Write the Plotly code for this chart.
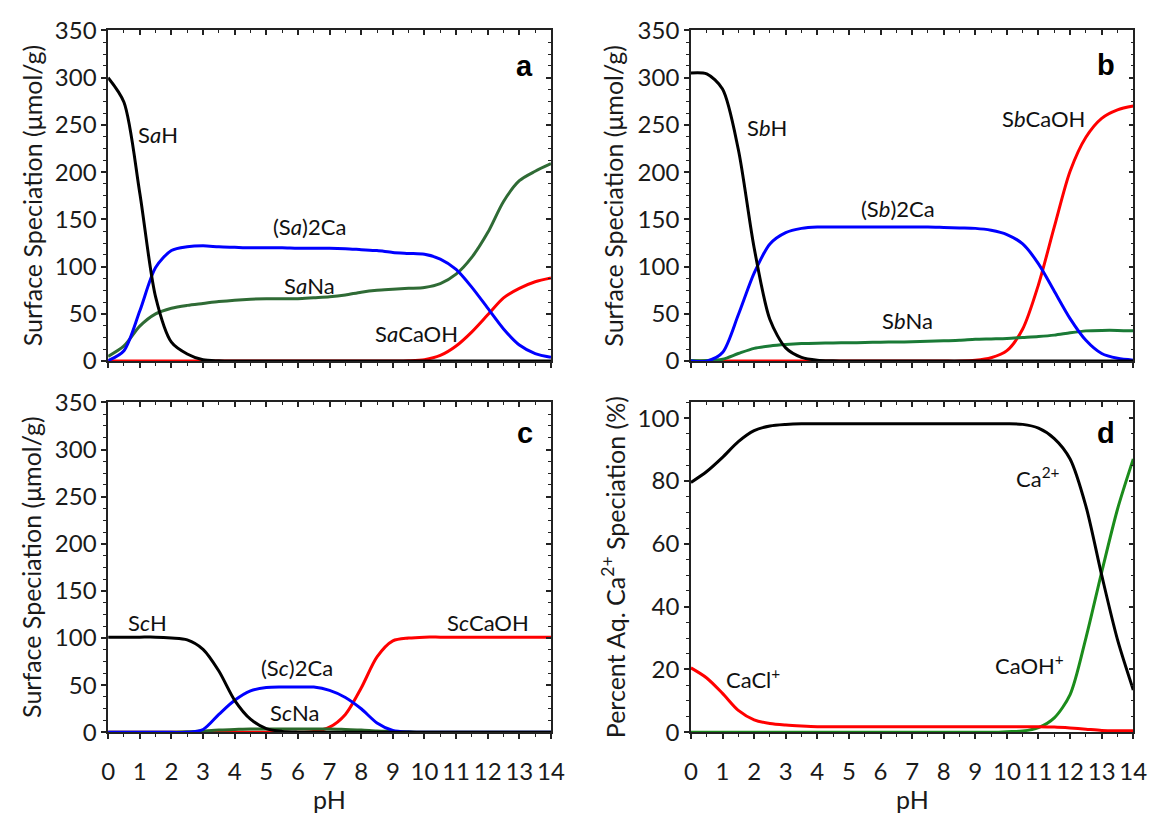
import plotly.graph_objects as go

# pH grid shared by every series
ph = [0.0, 0.5, 1.0, 1.5, 2.0, 2.5, 3.0, 3.5, 4.0, 4.5, 5.0, 5.5, 6.0, 6.5, 7.0,
      7.5, 8.0, 8.5, 9.0, 9.5, 10.0, 10.5, 11.0, 11.5, 12.0, 12.5, 13.0, 13.5, 14.0]

# Panel a: site Sa (umol/g)
sa_h = [300, 274, 178, 68, 20, 7.5, 1.4, 0.3] + [0] * 21
sa2_ca = [0.5, 11, 53, 99, 117, 121, 122, 121, 120.5, 120, 120, 120, 119.5, 119.5, 119.5,
          119, 118, 117, 115, 114, 113, 108, 97, 78, 56, 34, 17, 8, 4]
sa_na = [5, 16, 37, 50, 56, 59, 61, 63, 64.5, 65.5, 66, 66, 66, 67, 68,
         70, 73, 75, 76, 77, 78, 82, 92, 110, 136, 169, 191, 201, 209]
sa_caoh = [0] * 19 + [0.3, 1.5, 6, 16, 31, 49, 67, 77, 84, 88]

# Panel b: site Sb (umol/g)
sb_h = [305, 304, 288, 224, 120, 44, 14, 4, 1, 0.3] + [0] * 19
sb2_ca = [0, 0, 9, 49, 93, 124, 136, 140.5, 142, 142, 142, 142, 142, 142, 142,
          142, 141.5, 141, 140.5, 138.5, 134, 124, 103, 74, 45, 22, 8, 3, 1]
sb_na = [0.5, 0.5, 2, 8, 13.5, 16, 17.5, 18.5, 19, 19.2, 19.4, 19.7, 20, 20.2, 20.5,
         21, 21.5, 22, 23, 23.5, 24, 25, 26, 27.5, 30, 32, 32.5, 32.5, 32]
sb_caoh = [0] * 18 + [0.8, 3.5, 11, 34, 81, 142, 201, 237, 257, 266, 270]

# Panel c: site Sc (umol/g)
sc_h = [101, 101, 101, 101, 100, 98, 88, 65, 34, 14, 4, 1, 0.2] + [0] * 16
sc2_ca = [0] * 6 + [3, 19, 34, 44, 47.5, 48, 48, 48, 44.5, 37, 25, 10, 2, 0.3] + [0] * 9
sc_na = [0] * 5 + [0.5, 1.5, 2.5, 3, 3.5, 3.5, 3.5, 3.5, 3.5, 3.5, 3, 2.5, 1.5, 1, 0.5] + [0] * 9
sc_caoh = [0] * 13 + [1, 5.5, 19, 47, 80, 97, 100] + [101] * 9

# Panel d: aqueous Ca speciation (%)
ca2 = [79.5, 83, 87.5, 92.5, 96, 97.5, 98, 98.2] + [98.2] * 13 + \
      [98, 96.8, 93.5, 87, 72, 50, 29.5, 13.5]
caoh = [0] * 20 + [0.2, 0.4, 1.5, 4.6, 12, 30, 51, 71, 87]
cacl = [20.5, 17.3, 12.4, 7, 4, 2.8, 2.3, 2.0] + [1.8] * 15 + [1.7, 1.4, 1.0, 0.6, 0.5, 0.5]

BLACK, BLUE, RED = "#000000", "#0000ff", "#ff0000"
AX = "#222222"
FONT = "Lato"

W, H = 1163, 823
dom_x_left = [103 / W, 554 / W]
dom_x_right = [696.5 / W, 1147 / W]
dom_y_top = [(H - 357.7) / H, (H - 15) / H]
dom_y_bot = [(H - 742.5) / H, (H - 400.5) / H]

panels = [
    dict(n=1, dx=dom_x_left, dy=dom_y_top, yr=[0, 350], ydt=50, ymin=12.5, xlabels=False,
         letter="a", letter_pos=(13.17, 312),
         series=[(sa_caoh, RED), (sa_na, "#2f6b35"), (sa2_ca, BLUE), (sa_h, BLACK)],
         labels=[("S<i>a</i>H", 1.58, 240), ("(S<i>a</i>)2Ca", 6.38, 143),
                 ("S<i>a</i>Na", 6.36, 80), ("S<i>a</i>CaOH", 9.75, 29)]),
    dict(n=2, dx=dom_x_right, dy=dom_y_top, yr=[0, 350], ydt=50, ymin=12.5, xlabels=False,
         letter="b", letter_pos=(13.13, 313),
         series=[(sb_caoh, RED), (sb_na, "#1a7a36"), (sb2_ca, BLUE), (sb_h, BLACK)],
         labels=[("S<i>b</i>H", 2.41, 247), ("(S<i>b</i>)2Ca", 6.55, 162),
                 ("S<i>b</i>Na", 6.84, 43), ("S<i>b</i>CaOH", 11.15, 257)]),
    dict(n=3, dx=dom_x_left, dy=dom_y_bot, yr=[0, 350], ydt=50, ymin=12.5, xlabels=True,
         letter="c", letter_pos=(13.17, 318),
         series=[(sc_caoh, RED), (sc_na, "#2b6a2b"), (sc2_ca, BLUE), (sc_h, BLACK)],
         labels=[("S<i>c</i>H", 1.23, 117), ("(S<i>c</i>)2Ca", 5.96, 69),
                 ("S<i>c</i>Na", 5.88, 21.5), ("S<i>c</i>CaOH", 12.02, 116)]),
    dict(n=4, dx=dom_x_right, dy=dom_y_bot, yr=[0, 105], ydt=20, ymin=5, xlabels=True,
         letter="d", letter_pos=(13.13, 95.4),
         series=[(caoh, "#1b8c1b"), (cacl, RED), (ca2, BLACK)],
         labels=[("Ca<sup>2+</sup>", 11.0, 81), ("CaOH<sup>+</sup>", 10.71, 21.6),
                 ("CaCl<sup>+</sup>", 1.96, 17)]),
]

fig = go.Figure()
layout = {}
annotations = []

for p in panels:
    n = p["n"]
    xs = "" if n == 1 else str(n)
    xname, yname = "x" + xs, "y" + xs
    for vals, col in p["series"]:
        fig.add_trace(go.Scatter(
            x=ph, y=vals, mode="lines", xaxis=xname, yaxis=yname,
            line=dict(color=col, width=3, shape="spline", smoothing=0.8),
            showlegend=False, hoverinfo="skip"))

    tickfont = dict(family=FONT, size=24, color="#1a1a1a")
    layout["xaxis" + xs] = dict(
        domain=p["dx"], anchor=yname, range=[0, 14], tick0=0, dtick=1,
        ticks="outside", ticklen=5, tickwidth=1.5, tickcolor=AX,
        showline=True, linecolor=AX, linewidth=1.5, showgrid=False, zeroline=False,
        minor=dict(dtick=0.5, ticks="outside", ticklen=3, tickcolor=AX, tickwidth=1),
        showticklabels=p["xlabels"], tickfont=tickfont, ticklabelstandoff=12)
    layout["yaxis" + xs] = dict(
        domain=p["dy"], anchor=xname, range=p["yr"], tick0=0, dtick=p["ydt"],
        ticks="outside", ticklen=5, tickwidth=1.5, tickcolor=AX,
        showline=True, linecolor=AX, linewidth=1.5, showgrid=False, zeroline=False,
        minor=dict(dtick=p["ymin"], ticks="outside", ticklen=3, tickcolor=AX, tickwidth=1),
        tickfont=tickfont)

    # frame on the top and right edges with inward ticks
    o = n + 4
    ox, oy = "x" + str(o), "y" + str(o)
    layout["xaxis" + str(o)] = dict(
        overlaying=xname, side="top", anchor=oy, range=[0, 14], tick0=0, dtick=1,
        ticks="inside", ticklen=5, tickwidth=1.5, tickcolor=AX,
        showline=True, linecolor=AX, linewidth=1.5, showgrid=False, zeroline=False,
        minor=dict(dtick=0.5, ticks="inside", ticklen=3, tickcolor=AX, tickwidth=1),
        showticklabels=False)
    layout["yaxis" + str(o)] = dict(
        overlaying=yname, side="right", anchor=ox, range=p["yr"], tick0=0, dtick=p["ydt"],
        ticks="inside", ticklen=5, tickwidth=1.5, tickcolor=AX,
        showline=True, linecolor=AX, linewidth=1.5, showgrid=False, zeroline=False,
        minor=dict(dtick=p["ymin"], ticks="inside", ticklen=3, tickcolor=AX, tickwidth=1),
        showticklabels=False)
    fig.add_trace(go.Scatter(x=[None], y=[None], xaxis=ox, yaxis=oy,
                             showlegend=False, hoverinfo="skip"))

    for txt, lx, ly in p["labels"]:
        annotations.append(dict(text=txt, x=lx, y=ly, xref=xname, yref=yname,
                                showarrow=False,
                                font=dict(family=FONT, size=22, color="#111111")))
    annotations.append(dict(text="<b>%s</b>" % p["letter"], x=p["letter_pos"][0],
                            y=p["letter_pos"][1], xref=xname, yref=yname, showarrow=False,
                            font=dict(family="Liberation Sans", size=29, color="#000000")))

# axis titles
title_font = dict(family=FONT, size=25, color="#1a1a1a")
for xpos, dom, txt in [
        (25, dom_y_top, "Surface Speciation (μmol/g)"),
        (25, dom_y_bot, "Surface Speciation (μmol/g)"),
        (617, dom_y_top, "Surface Speciation (μmol/g)"),
        (618, dom_y_bot, "Percent Aq. Ca<sup>2+</sup> Speciation (%)")]:
    annotations.append(dict(text=txt, x=xpos / W, y=(dom[0] + dom[1]) / 2,
                            xref="paper", yref="paper", textangle=-90, showarrow=False,
                            xanchor="center", yanchor="middle", font=title_font))
for dom in (dom_x_left, dom_x_right):
    annotations.append(dict(text="pH", x=(dom[0] + dom[1]) / 2, y=(H - 812) / H,
                            xref="paper", yref="paper", showarrow=False,
                            xanchor="center", yanchor="middle", font=title_font))

fig.update_layout(
    width=W, height=H, margin=dict(l=0, r=0, t=0, b=0),
    paper_bgcolor="white", plot_bgcolor="white",
    annotations=annotations, **layout)

fig.write_html("out.html")
